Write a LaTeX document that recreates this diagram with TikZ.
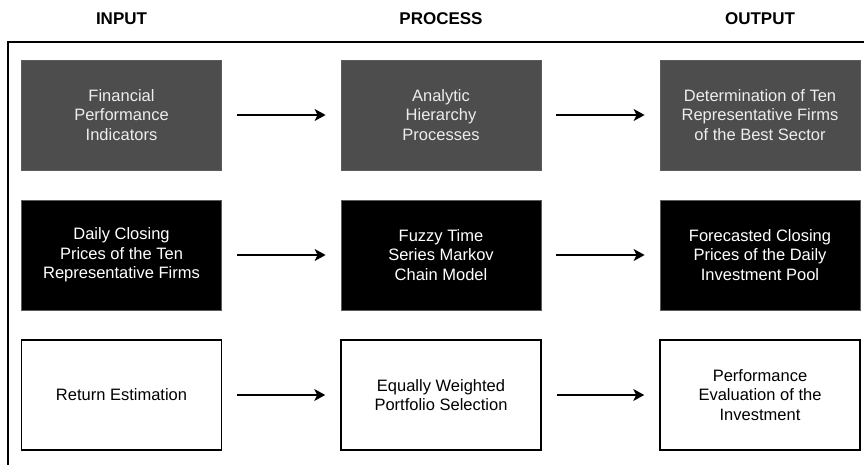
\documentclass[tikz,border=0pt]{standalone}
\usepackage{fontspec}
\setmainfont{Liberation Sans}
\usetikzlibrary{arrows.meta}
\definecolor{boxgray}{HTML}{4D4D4D}
\definecolor{boxgrayedge}{HTML}{5C5C5C}
\definecolor{lighttext}{HTML}{EDEDED}
\tikzset{
  stage/.style={minimum width=200pt, minimum height=110pt, inner sep=0pt,
    align=center, font=\fontsize{16.5}{19.5}\selectfont},
  graybox/.style={stage, fill=boxgray, draw=boxgrayedge, line width=0.8pt, text=lighttext},
  blackbox/.style={stage, fill=black, draw=boxgrayedge, line width=0.8pt, text=white},
  whitebox/.style={stage, fill=white, draw=black, line width=1.6pt, text=black},
  heading/.style={font=\fontsize{17}{20}\selectfont\bfseries},
  flow/.style={line width=1.3pt, shorten <=15pt, shorten >=15pt,
    -{Stealth[length=11pt,width=12pt,inset=3pt]}}
}
\begin{document}
\begin{tikzpicture}[x=1pt, y=-1pt]
  \useasboundingbox (0,0) rectangle (864,465);

  % column headings
  \node[heading] (hin)  at (121.5,19) {INPUT};
  \node[heading] (hpro) at (441,19)   {PROCESS};
  \node[heading] (hout) at (760,19)   {OUTPUT};

  % open frame: top and left edges
  \draw[line width=2pt] (8,466) -- (8,42) -- (866,42);

  % first row
  \node[graybox] (a1) at (121.5,115) {Financial\\Performance\\Indicators};
  \node[graybox] (a2) at (441,115)   {Analytic\\Hierarchy\\Processes};
  \node[graybox] (a3) at (760,115)   {Determination of Ten\\Representative Firms\\of the Best Sector};

  % second row
  \node[blackbox] (b1) at (121.5,255) {Daily Closing\\Prices of the Ten\\Representative Firms};
  \node[blackbox] (b2) at (441,255)   {Fuzzy Time\\Series Markov\\Chain Model};
  \node[blackbox] (b3) at (760,255)   {Forecasted Closing\\Prices of the Daily\\Investment Pool};

  % third row
  \node[whitebox] (c1) at (121.5,395) {Return Estimation};
  \node[whitebox] (c2) at (441,395)   {Equally Weighted\\Portfolio Selection};
  \node[whitebox] (c3) at (760,395)   {Performance\\Evaluation of the\\Investment};

  % connectors
  \draw[flow] (a1) -- (a2);
  \draw[flow] (a2) -- (a3);
  \draw[flow] (b1) -- (b2);
  \draw[flow] (b2) -- (b3);
  \draw[flow] (c1) -- (c2);
  \draw[flow] (c2) -- (c3);
\end{tikzpicture}
\end{document}
